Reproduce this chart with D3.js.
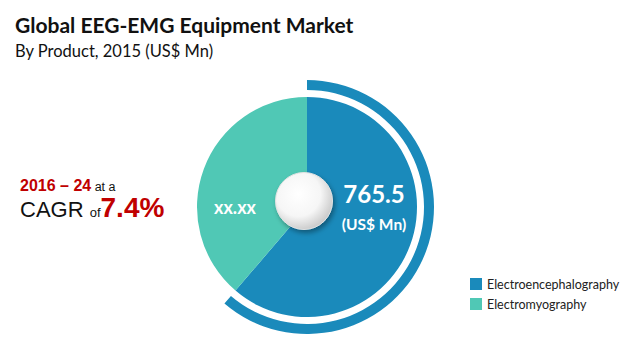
<!DOCTYPE html>
<html>
<head>
<meta charset="utf-8">
<script src="https://cdn.jsdelivr.net/npm/d3@7/dist/d3.min.js"></script>
<style>
  body { margin: 0; background: #fff; }
  svg { display: block; }
</style>
</head>
<body>
<svg id="chart" width="620" height="352"></svg>
<script>
// data
var products = ["Electroencephalography", "Electromyography"]
var values = [765.5, 484]
var valueLabels = ["765.5", "xx.xx"]
var colors = ["#1a8abb", "#50c8b5"]

var width = 620, height = 352
var cx = 307, cy = 207, radius = 110
var svg = d3.select("#chart")
var font = "Lato, 'Open Sans', sans-serif"

var defs = svg.append("defs")
var grad = defs.append("radialGradient").attr("id", "gloss")
    .attr("cx", "40%").attr("cy", "38%").attr("r", "65%")
grad.append("stop").attr("offset", "0%").attr("stop-color", "#ffffff")
grad.append("stop").attr("offset", "60%").attr("stop-color", "#f6f6f6")
grad.append("stop").attr("offset", "100%").attr("stop-color", "#c9c9c9")
var shadow = defs.append("filter").attr("id", "shadow")
    .attr("x", "-50%").attr("y", "-50%").attr("width", "200%").attr("height", "200%")
shadow.append("feDropShadow").attr("dx", 2).attr("dy", 3).attr("stdDeviation", 2.5)
    .attr("flood-color", "#000").attr("flood-opacity", 0.35)

// titles
svg.append("text").attr("x", 15).attr("y", 33)
    .style("font-family", font).style("font-weight", "bold").style("font-size", "21px")
    .attr("fill", "#111").text("Global EEG-EMG Equipment Market")
svg.append("text").attr("x", 15).attr("y", 57)
    .style("font-family", font).style("font-size", "16.5px")
    .attr("fill", "#111").text("By Product, 2015 (US$ Mn)")

// CAGR note
var t1 = svg.append("text").attr("x", 20).attr("y", 191)
    .style("font-family", "'Liberation Sans', Arial, sans-serif")
t1.append("tspan").attr("fill", "#c00000").style("font-weight", "bold")
    .style("font-size", "16px").text("2016 \u2013 24")
t1.append("tspan").attr("fill", "#111").style("font-size", "12.5px").text(" at a")
var t2 = svg.append("text").attr("x", 20).attr("y", 217)
    .style("font-family", "'Liberation Sans', Arial, sans-serif")
t2.append("tspan").attr("fill", "#111").style("font-size", "22px").text("CAGR ")
t2.append("tspan").attr("fill", "#111").style("font-size", "13px").text("of")
t2.append("tspan").attr("fill", "#c00000").style("font-weight", "bold")
    .style("font-size", "28px").text("7.4%")

// pie
var pie = d3.pie().sort(null).value(function(d) { return d })
var arcs = pie(values)
var arc = d3.arc().innerRadius(0).outerRadius(radius)
var g = svg.append("g").attr("transform", "translate(" + cx + "," + cy + ")")

g.selectAll("path.slice").data(arcs).enter().append("path")
    .attr("class", "slice")
    .attr("d", arc)
    .attr("fill", function(d, i) { return colors[i] })

// outer ring highlighting the first slice
var ring = d3.arc().innerRadius(radius + 7).outerRadius(radius + 17)
g.append("path")
    .attr("d", ring({ startAngle: arcs[0].startAngle, endAngle: arcs[0].endAngle }))
    .attr("fill", colors[0])

// glossy centre button
g.append("circle").attr("cx", -3).attr("cy", -6).attr("r", 28.5)
    .attr("fill", "url(#gloss)").attr("filter", "url(#shadow)")
    .attr("stroke", "#e2e2e2").attr("stroke-width", 1)

// value labels
g.append("text").attr("x", 67).attr("y", -4)
    .attr("text-anchor", "middle").attr("fill", "#fff")
    .style("font-family", font).style("font-weight", "bold").style("font-size", "24px")
    .text(valueLabels[0])
g.append("text").attr("x", 67).attr("y", 23)
    .attr("text-anchor", "middle").attr("fill", "#fff")
    .style("font-family", font).style("font-weight", "bold").style("font-size", "15.5px")
    .text("(US$ Mn)")
g.append("text").attr("x", -72).attr("y", 7)
    .attr("text-anchor", "middle").attr("fill", "#fff")
    .style("font-family", font).style("font-weight", "bold").style("font-size", "18px")
    .text(valueLabels[1])

// legend
var legend = svg.append("g").attr("transform", "translate(470,278)")
var item = legend.selectAll("g").data(products).enter().append("g")
    .attr("transform", function(d, i) { return "translate(0," + (i * 20) + ")" })
item.append("rect").attr("width", 12).attr("height", 12)
    .attr("fill", function(d, i) { return colors[i] })
item.append("text").attr("x", 17).attr("y", 10.5)
    .style("font-family", font).style("font-size", "12.5px").attr("fill", "#222")
    .text(function(d) { return d })
</script>
</body>
</html>
